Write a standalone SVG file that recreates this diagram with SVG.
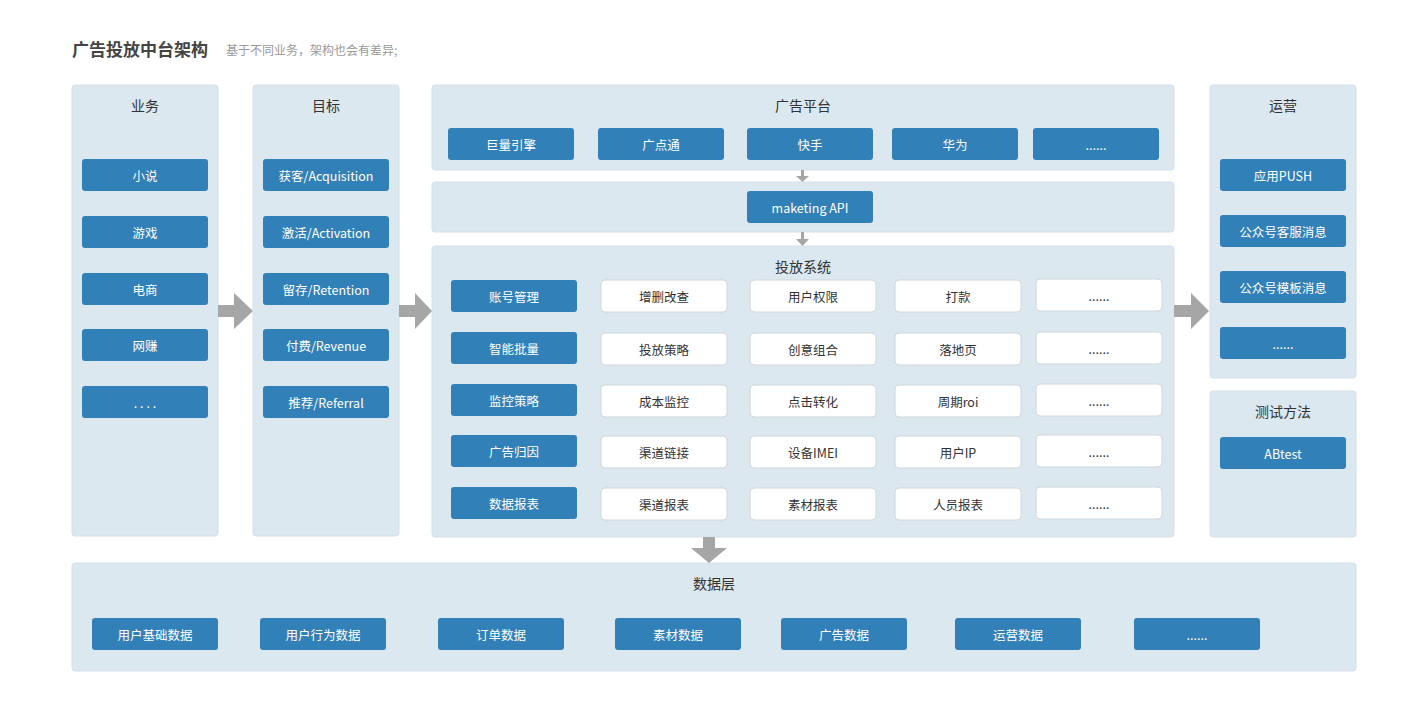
<svg xmlns="http://www.w3.org/2000/svg" width="1416" height="709" viewBox="0 0 1416 709">
<style>
text{font-family:"Noto Sans CJK SC","Liberation Sans",sans-serif;}
.pn{fill:#dce8ef;stroke:#d4e0e8;stroke-width:1}
.b{fill:#3280b8}
.w{fill:#ffffff;stroke:#cfd6db;stroke-width:1}
.bt{fill:#ffffff;font-size:12.5px;text-anchor:middle;dominant-baseline:central}
.wt{fill:#333333;font-size:12.5px;text-anchor:middle;dominant-baseline:central}
.pt{fill:#333333;font-size:14px;text-anchor:middle;dominant-baseline:central}
.ar{fill:#a6a6a6}
</style>
<rect width="1416" height="709" fill="#ffffff"/>
<g id="title">
<text x="72" y="56" font-size="17" font-weight="bold" fill="#444444">广告投放中台架构</text>
<text x="226" y="55" font-size="12" fill="#999999">基于不同业务，架构也会有差异;</text>
</g>
<g id="biz">
<rect class="pn" x="72" y="85" width="146" height="451" rx="3"/>
<text class="pt" x="145" y="105">业务</text>
<rect class="b" x="82" y="159" width="126" height="32" rx="3"/><text class="bt" x="145" y="175">小说</text>
<rect class="b" x="82" y="216" width="126" height="32" rx="3"/><text class="bt" x="145" y="232">游戏</text>
<rect class="b" x="82" y="273" width="126" height="32" rx="3"/><text class="bt" x="145" y="289">电商</text>
<rect class="b" x="82" y="329" width="126" height="32" rx="3"/><text class="bt" x="145" y="345">网赚</text>
<rect class="b" x="82" y="386" width="126" height="32" rx="3"/><text class="bt" x="145" y="402">. . . .</text>
</g>
<g id="goal">
<rect class="pn" x="253" y="85" width="146" height="451" rx="3"/>
<text class="pt" x="326" y="105">目标</text>
<rect class="b" x="263" y="159" width="126" height="32" rx="3"/><text class="bt" x="326" y="175">获客/Acquisition</text>
<rect class="b" x="263" y="216" width="126" height="32" rx="3"/><text class="bt" x="326" y="232">激活/Activation</text>
<rect class="b" x="263" y="273" width="126" height="32" rx="3"/><text class="bt" x="326" y="289">留存/Retention</text>
<rect class="b" x="263" y="329" width="126" height="32" rx="3"/><text class="bt" x="326" y="345">付费/Revenue</text>
<rect class="b" x="263" y="386" width="126" height="32" rx="3"/><text class="bt" x="326" y="402">推荐/Referral</text>
</g>
<g id="platform">
<rect class="pn" x="432" y="85" width="742" height="85" rx="3"/>
<text class="pt" x="803" y="105">广告平台</text>
<rect class="b" x="448" y="128" width="126" height="32" rx="3"/><text class="bt" x="511" y="144">巨量引擎</text>
<rect class="b" x="598" y="128" width="126" height="32" rx="3"/><text class="bt" x="661" y="144">广点通</text>
<rect class="b" x="747" y="128" width="126" height="32" rx="3"/><text class="bt" x="810" y="144">快手</text>
<rect class="b" x="892" y="128" width="126" height="32" rx="3"/><text class="bt" x="955" y="144">华为</text>
<rect class="b" x="1033" y="128" width="126" height="32" rx="3"/><text class="bt" x="1096" y="144">......</text>
</g>
<g id="api">
<rect class="pn" x="432" y="182" width="742" height="50" rx="3"/>
<rect class="b" x="747" y="191" width="126" height="32" rx="3"/><text class="bt" x="810" y="207">maketing API</text>
</g>
<g id="system">
<rect class="pn" x="432" y="246" width="742" height="291" rx="3"/>
<text class="pt" x="803" y="266">投放系统</text>
<rect class="b" x="451" y="280" width="126" height="32" rx="3"/><text class="bt" x="514" y="296">账号管理</text>
<rect class="w" x="601" y="280" width="126" height="32" rx="4"/><text class="wt" x="664" y="296">增删改查</text>
<rect class="w" x="750" y="280" width="126" height="32" rx="4"/><text class="wt" x="813" y="296">用户权限</text>
<rect class="w" x="895" y="280" width="126" height="32" rx="4"/><text class="wt" x="958" y="296">打款</text>
<rect class="w" x="1036" y="279" width="126" height="32" rx="4"/><text class="wt" x="1099" y="295">......</text>
<rect class="b" x="451" y="332" width="126" height="32" rx="3"/><text class="bt" x="514" y="348">智能批量</text>
<rect class="w" x="601" y="333" width="126" height="32" rx="4"/><text class="wt" x="664" y="349">投放策略</text>
<rect class="w" x="750" y="333" width="126" height="32" rx="4"/><text class="wt" x="813" y="349">创意组合</text>
<rect class="w" x="895" y="333" width="126" height="32" rx="4"/><text class="wt" x="958" y="349">落地页</text>
<rect class="w" x="1036" y="332" width="126" height="32" rx="4"/><text class="wt" x="1099" y="348">......</text>
<rect class="b" x="451" y="384" width="126" height="32" rx="3"/><text class="bt" x="514" y="400">监控策略</text>
<rect class="w" x="601" y="385" width="126" height="32" rx="4"/><text class="wt" x="664" y="401">成本监控</text>
<rect class="w" x="750" y="385" width="126" height="32" rx="4"/><text class="wt" x="813" y="401">点击转化</text>
<rect class="w" x="895" y="385" width="126" height="32" rx="4"/><text class="wt" x="958" y="401">周期roi</text>
<rect class="w" x="1036" y="384" width="126" height="32" rx="4"/><text class="wt" x="1099" y="400">......</text>
<rect class="b" x="451" y="435" width="126" height="32" rx="3"/><text class="bt" x="514" y="451">广告归因</text>
<rect class="w" x="601" y="436" width="126" height="32" rx="4"/><text class="wt" x="664" y="452">渠道链接</text>
<rect class="w" x="750" y="436" width="126" height="32" rx="4"/><text class="wt" x="813" y="452">设备IMEI</text>
<rect class="w" x="895" y="436" width="126" height="32" rx="4"/><text class="wt" x="958" y="452">用户IP</text>
<rect class="w" x="1036" y="435" width="126" height="32" rx="4"/><text class="wt" x="1099" y="451">......</text>
<rect class="b" x="451" y="487" width="126" height="32" rx="3"/><text class="bt" x="514" y="503">数据报表</text>
<rect class="w" x="601" y="488" width="126" height="32" rx="4"/><text class="wt" x="664" y="504">渠道报表</text>
<rect class="w" x="750" y="488" width="126" height="32" rx="4"/><text class="wt" x="813" y="504">素材报表</text>
<rect class="w" x="895" y="488" width="126" height="32" rx="4"/><text class="wt" x="958" y="504">人员报表</text>
<rect class="w" x="1036" y="487" width="126" height="32" rx="4"/><text class="wt" x="1099" y="503">......</text>
</g>
<g id="ops">
<rect class="pn" x="1210" y="85" width="146" height="293" rx="3"/>
<text class="pt" x="1283" y="105">运营</text>
<rect class="b" x="1220" y="159" width="126" height="32" rx="3"/><text class="bt" x="1283" y="175">应用PUSH</text>
<rect class="b" x="1220" y="215" width="126" height="32" rx="3"/><text class="bt" x="1283" y="231">公众号客服消息</text>
<rect class="b" x="1220" y="271" width="126" height="32" rx="3"/><text class="bt" x="1283" y="287">公众号模板消息</text>
<rect class="b" x="1220" y="327" width="126" height="32" rx="3"/><text class="bt" x="1283" y="343">......</text>
</g>
<g id="test">
<rect class="pn" x="1210" y="391" width="146" height="146" rx="3"/>
<text class="pt" x="1283" y="411">测试方法</text>
<rect class="b" x="1220" y="437" width="126" height="32" rx="3"/><text class="bt" x="1283" y="453">ABtest</text>
</g>
<g id="data">
<rect class="pn" x="72" y="563" width="1284" height="108" rx="3"/>
<text class="pt" x="714" y="583">数据层</text>
<rect class="b" x="92" y="618" width="126" height="32" rx="3"/><text class="bt" x="155" y="634">用户基础数据</text>
<rect class="b" x="260" y="618" width="126" height="32" rx="3"/><text class="bt" x="323" y="634">用户行为数据</text>
<rect class="b" x="438" y="618" width="126" height="32" rx="3"/><text class="bt" x="501" y="634">订单数据</text>
<rect class="b" x="615" y="618" width="126" height="32" rx="3"/><text class="bt" x="678" y="634">素材数据</text>
<rect class="b" x="781" y="618" width="126" height="32" rx="3"/><text class="bt" x="844" y="634">广告数据</text>
<rect class="b" x="955" y="618" width="126" height="32" rx="3"/><text class="bt" x="1018" y="634">运营数据</text>
<rect class="b" x="1134" y="618" width="126" height="32" rx="3"/><text class="bt" x="1197" y="634">......</text>
</g>
<g id="connectors">
<polygon class="ar" points="218,305 234,305 234,293 253,311 234,329 234,317 218,317"/>
<polygon class="ar" points="399,305 415,305 415,293 432,311 415,329 415,317 399,317"/>
<polygon class="ar" points="1174,305 1191,305 1191,293 1209,311 1191,329 1191,317 1174,317"/>
<polygon class="ar" points="703,537 715,537 715,548 727,548 709,563 691,548 703,548"/>
<polygon class="ar" points="801,170 804,170 804,176 809,176 802.5,182 796,176 801,176"/>
<polygon class="ar" points="801,232 804,232 804,239 809,239 802.5,246 796,239 801,239"/>
</g>
</svg>
